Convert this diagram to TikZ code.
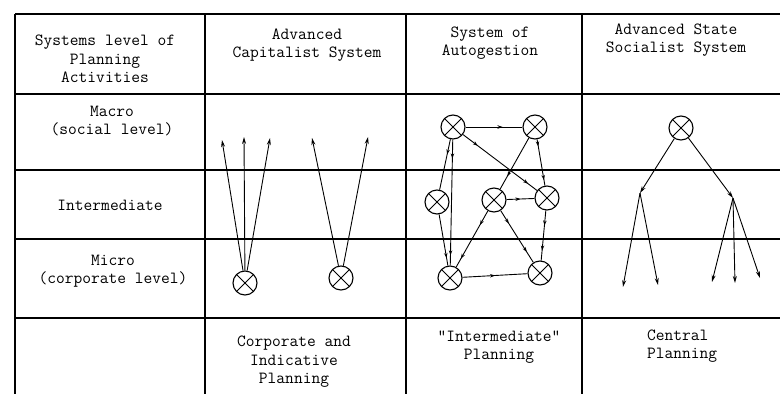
\documentclass[tikz,border=0pt]{standalone}
\usepackage{fontspec}
\usetikzlibrary{arrows.meta,decorations.markings}
\begin{document}
\begin{tikzpicture}[x=1pt,y=-1pt,
 txt/.style={font=\ttfamily\fontsize{17}{18.5}\selectfont, align=center, inner sep=0pt},
 grid/.style={line width=1.4pt},
 ox/.style={circle, draw, line width=1.1pt, minimum size=24pt, inner sep=0pt,
   path picture={\draw[line width=1pt] (path picture bounding box.north west)--(path picture bounding box.south east)
     (path picture bounding box.north east)--(path picture bounding box.south west);}},
 ar/.style={line width=0.9pt},
 tip/.style={-{Stealth[length=7pt,width=4pt]}},
 mk/.style={postaction={decorate,decoration={markings,mark=at position #1 with {\arrow{Stealth[length=5pt,width=3.5pt]}}}}},
]
\useasboundingbox (0,0) rectangle (780,394);
% table
\draw[grid] (15,14) -- (780,14);
\draw[grid] (15,94) -- (780,94);
\draw[grid] (15,170) -- (780,170);
\draw[grid] (15,239) -- (780,239);
\draw[grid] (15,318) -- (780,318);
\draw[grid] (15,14) -- (15,394);
\draw[grid] (205,14) -- (205,394);
\draw[grid] (406,14) -- (406,394);
\draw[grid] (582,14) -- (582,394);
% headers
\node[txt] (h1) at (105,59) {Systems level of\\Planning\\Activities};
\node[txt] (h2) at (307,45) {Advanced\\Capitalist System};
\node[txt] (h3) at (490,43) {System of\\Autogestion};
\node[txt] (h4) at (676,40) {Advanced State\\Socialist System};
% row labels
\node[txt] (lmacro) at (112,121) {Macro\\(social level)};
\node[txt] (linter) at (110,205) {Intermediate};
\node[txt] (lmicro) at (113,271) {Micro\\(corporate level)};
% bottom labels
\node[txt] (b2) at (294,362) {Corporate and\\Indicative\\Planning};
\node[txt] (b3) at (499,347) {"Intermediate"\\Planning};
\node[txt, align=left, anchor=west] (b4) at (647,346) {Central\\Planning};
% capitalist
\node[ox] (c1) at (245,283) {};
\node[ox] (c2) at (341,278) {};
\coordinate (t1) at (222,140);
\coordinate (t2) at (244,137);
\coordinate (t3) at (270,138);
\coordinate (t4) at (312,138);
\coordinate (t5) at (368,137);
\draw[ar,tip] (c1) -- (t1);
\draw[ar,tip] (c1) -- (t2);
\draw[ar,tip] (c1) -- (t3);
\draw[ar,tip] (c2) -- (t4);
\draw[ar,tip] (c2) -- (t5);
% autogestion
\node[ox] (A) at (453,127) {};
\node[ox] (B) at (535,127) {};
\node[ox] (C) at (437,202) {};
\node[ox] (D) at (494,200) {};
\node[ox] (E) at (547,198) {};
\node[ox] (F) at (450,278) {};
\node[ox] (G) at (540,273) {};
\draw[ar,mk=0.65] (A) -- (B);
\draw[ar,mk=0.3] (A) -- (C);
\draw[ar,mk=0.15,mk=0.92] (A) -- (F);
\draw[ar,mk=0.2,mk=0.88] (A) -- (E);
\draw[ar,mk=0.75] (B) -- (D);
\draw[ar,mk=0.15,mk=0.88] (B) -- (E);
\draw[ar,mk=0.5] (D) -- (E);
\draw[ar,mk=0.85] (C) -- (F);
\draw[ar,mk=0.25,mk=0.85] (D) -- (F);
\draw[ar,mk=0.25,mk=0.8] (D) -- (G);
\draw[ar,mk=0.3,mk=0.8] (E) -- (G);
\draw[ar,mk=0.5] (F) -- (G);
% socialist
\node[ox] (R) at (681,128) {};
\coordinate (jl) at (640,193);
\coordinate (jr) at (733,198);
\coordinate (l1) at (623,287);
\coordinate (l2) at (658,285);
\coordinate (s1) at (712,282);
\coordinate (s2) at (735,283);
\coordinate (s3) at (760,278);
\draw[ar,tip] (R) -- (jl);
\draw[ar,tip] (R) -- (jr);
\draw[ar,tip] (jl) -- (l1);
\draw[ar,tip] (jl) -- (l2);
\draw[ar,tip] (jr) -- (s1);
\draw[ar,tip] (jr) -- (s2);
\draw[ar,tip] (jr) -- (s3);
\end{tikzpicture}
\end{document}
